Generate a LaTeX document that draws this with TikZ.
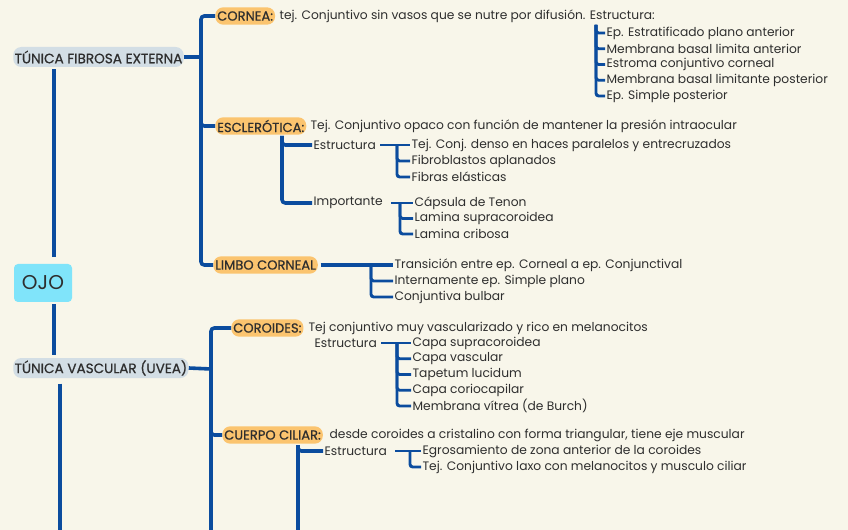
\documentclass[tikz,border=0pt]{standalone}
\usepackage{fontspec}
\setmainfont{Poppins}
\newfontface\pillfont{Poppins}[FakeBold=0.7]
\usetikzlibrary{positioning, calc}
\definecolor{OJBack}{HTML}{F8F6EA}
\definecolor{OJBlue}{HTML}{0B4C9E}
\definecolor{OJCyan}{HTML}{80E4FA}
\definecolor{OJGold}{HTML}{FBC46F}
\definecolor{OJGrey}{HTML}{D3DEE5}
\definecolor{OJInk}{HTML}{2E2E2E}

\begin{document}
\begin{tikzpicture}[x=0.75pt, y=-0.75pt,
    every node/.style={text=OJInk},
    root/.style={rectangle, rounded corners=3pt, fill=OJCyan,
                 minimum width=43.5pt, minimum height=28.5pt,
                 font=\fontsize{15}{17}\selectfont},
    tunica/.style={rectangle, rounded corners=6pt, fill=OJGrey, anchor=west,
                   minimum height=15pt, inner xsep=1pt, inner ysep=0pt,
                   font=\pillfont\fontsize{10.2}{12}\selectfont},
    part/.style={rectangle, rounded corners=6pt, fill=OJGold, anchor=west,
                 minimum height=13pt, inner xsep=1.5pt, inner ysep=0pt,
                 font=\pillfont\fontsize{9.8}{11}\selectfont},
    txt/.style={anchor=west, inner xsep=1pt, inner ysep=1pt,
                font=\fontsize{9.2}{11}\selectfont},
    link/.style={draw=OJBlue, line width=2.7pt, rounded corners=2.5pt},
    sublink/.style={draw=OJBlue, line width=2.2pt, rounded corners=2pt}
  ]
  \useasboundingbox (0,0) rectangle (848,530);
  \fill[OJBack] (0,0) rectangle (848,530);
  \clip (0,0) rectangle (848,530);

  \node[root] (ojo) at (43,283) {OJO};
  \node[tunica] (fibrosa) at (13,57) {TÚNICA FIBROSA EXTERNA};
  \node[tunica] (vascular) at (13,368) {TÚNICA VASCULAR (UVEA)};

  \draw[link, shorten <=5pt, shorten >=1.5pt] (ojo.north -| 54,0) -- (fibrosa.south -| 54,0);
  \draw[link, shorten <=1.5pt, shorten >=2pt] (ojo.south -| 54,0) -- (vascular.north -| 54,0);
  \coordinate (nextT) at (60,540);
  \draw[link, shorten <=4pt] (vascular.south -| nextT) -- (nextT);

  % Tunica fibrosa
  \node[part] (cornea) at (215,16) {CORNEA:};
  \node[txt]  (corneaT) at (278,16) {tej. Conjuntivo sin vasos que se nutre por difusión. Estructura:};
  \node[part] (escle) at (215,126) {ESCLERÓTICA:};
  \node[txt]  (escleT) at (309,126) {Tej. Conjuntivo opaco con función de mantener la presión intraocular};
  \node[part] (limbo) at (213,265) {LIMBO CORNEAL};

  \coordinate (fibJ) at (201,57);
  \draw[link] (fibrosa.east) -- (fibJ);
  \foreach \n in {cornea, escle, limbo} {
    \draw[link] (fibJ) |- (\n.west);
  }

  % Cornea
  \foreach \t [count=\i] in {Ep. Estratificado plano anterior,
      Membrana basal limita anterior, Estroma conjuntivo corneal,
      Membrana basal limitante posterior, Ep. Simple posterior} {
    \node[txt] (cor\i) at (605,{33+15.75*(\i-1)}) {\t};
  }
  \coordinate (corJ) at (596,25);
  \foreach \i in {1,...,5} {
    \draw[sublink] (corJ) |- (cor\i.west);
  }

  % Esclerotica
  \node[txt] (escEst) at (312,145) {Estructura};
  \node[txt] (escImp) at (312,203) {Importante};
  \coordinate (escJ) at (282,136);
  \foreach \n in {escEst, escImp} {
    \draw[link] (escJ) |- (\n.west);
  }
  \foreach \t [count=\i] in {Tej. Conj. denso en haces paralelos y entrecruzados,
      Fibroblastos aplanados, Fibras elásticas} {
    \node[txt] (est\i) at (410,{145+16*(\i-1)}) {\t};
  }
  \coordinate (estJ) at (397,145);
  \draw[sublink, shorten <=2pt] (escEst.east) -- (est1.west);
  \foreach \i in {2,3} {
    \draw[sublink] (estJ) |- (est\i.west);
  }
  \foreach \t [count=\i] in {Cápsula de Tenon, Lamina supracoroidea, Lamina cribosa} {
    \node[txt] (imp\i) at (413,{203+15.5*(\i-1)}) {\t};
  }
  \coordinate (impJ) at (400,203);
  \draw[sublink, shorten <=5pt] (escImp.east) -- (imp1.west);
  \foreach \i in {2,3} {
    \draw[sublink] (impJ) |- (imp\i.west);
  }

  % Limbo corneal
  \foreach \t [count=\i] in {Transición entre ep. Corneal a ep. Conjunctival,
      Internamente ep. Simple plano, Conjuntiva bulbar} {
    \node[txt] (lim\i) at (393,{265+16*(\i-1)}) {\t};
  }
  \coordinate (limJ) at (371,265);
  \draw[link, shorten <=2pt] (limbo.east) -- (lim1.west);
  \foreach \i in {2,3} {
    \draw[sublink] (limJ) |- (lim\i.west);
  }

  % Tunica vascular
  \node[part] (coroides) at (231,328) {COROIDES:};
  \node[txt]  (coroidesT) at (307,328) {Tej conjuntivo muy vascularizado y rico en melanocitos};
  \node[part] (ciliar) at (222,435) {CUERPO CILIAR:};
  \node[txt]  (ciliarT) at (328,435) {desde coroides a cristalino con forma triangular, tiene eje muscular};

  \coordinate (vasJ) at (211,369);
  \coordinate (vasEnd) at (211,540);
  \draw[link] (vascular.east) -- (vasJ);
  \draw[link] (vasJ) |- (coroides.west);
  \draw[link] (vasJ) |- (ciliar.west);
  \draw[link] (vasJ) -- (vasEnd);

  % Coroides
  \node[txt] (corEst) at (313,343) {Estructura};
  \foreach \t [count=\i] in {Capa supracoroidea, Capa vascular, Tapetum lucidum,
      Capa coriocapilar, Membrana vítrea (de Burch)} {
    \node[txt] (cap\i) at (411,{343+15.75*(\i-1)}) {\t};
  }
  \coordinate (capJ) at (397,343);
  \draw[sublink, shorten <=2pt] (corEst.east) -- (cap1.west);
  \foreach \i in {2,...,5} {
    \draw[sublink] (capJ) |- (cap\i.west);
  }

  % Cuerpo ciliar
  \node[txt] (cilEst) at (323,451) {Estructura};
  \coordinate (cilJ) at (298,445);
  \coordinate (cilEnd) at (298,540);
  \draw[link] (cilJ) -- (cilEnd);
  \draw[link] (cilJ) |- (cilEst.west);
  \foreach \t [count=\i] in {Egrosamiento de zona anterior de la coroides,
      Tej. Conjuntivo laxo con melanocitos y musculo ciliar} {
    \node[txt] (cil\i) at (421,{451+16*(\i-1)}) {\t};
  }
  \coordinate (cilK) at (410,451);
  \draw[sublink, shorten <=5pt] (cilEst.east) -- (cil1.west);
  \draw[sublink] (cilK) |- (cil2.west);
\end{tikzpicture}
\end{document}
